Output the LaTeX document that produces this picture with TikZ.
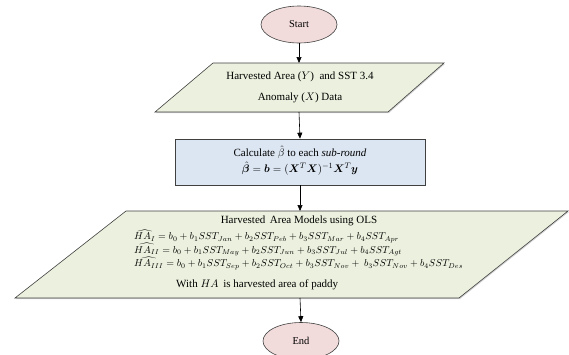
\documentclass[tikz,border=0pt]{standalone}
\usepackage{amsmath,bm}
\usepackage{fontspec}
\setmainfont{Liberation Serif}
\usetikzlibrary{arrows.meta,shapes.geometric,shadows}
\definecolor{pinkfill}{HTML}{F2DCDB}
\definecolor{greenfill}{HTML}{EBF1DE}
\definecolor{bluefill}{HTML}{DCE6F2}
\definecolor{edge}{HTML}{404040}
\tikzset{
  termbox/.style={ellipse, draw=edge, fill=pinkfill, line width=0.6pt, minimum width=76pt, minimum height=37pt, inner sep=0pt, font=\fontsize{10.5}{12}\selectfont},
  iobox/.style={draw=edge, fill=greenfill, line width=0.6pt, drop shadow={shadow xshift=1pt, shadow yshift=-1pt, opacity=0.35}},
  procbox/.style={rectangle, draw=edge, fill=bluefill, line width=0.6pt, minimum width=250pt, minimum height=46pt, inner sep=0pt, drop shadow={shadow xshift=1pt, shadow yshift=-1pt, opacity=0.35}},
  txt/.style={inner sep=0pt, font=\fontsize{11}{12}\selectfont},
  eqtxt/.style={inner sep=0pt, font=\fontsize{10.2}{11}\selectfont, anchor=west},
  flow/.style={-{Triangle[length=6pt,width=5pt]}, line width=0.6pt, black}
}
\begin{document}
\begin{tikzpicture}[x=1pt,y=-1pt]
\useasboundingbox (0,0) rectangle (569,354);
% Start
\node[termbox] (start) at (299,24.5) {Start};
% input parallelogram
\draw[iobox] (213,63) -- (444,63) -- (388,112) -- (155,112) -- cycle;
\coordinate (inN) at (299,63);
\coordinate (inS) at (299,112);
\node[txt] (in1) at (300,77) {Harvested Area ($Y$)\ \ and SST 3.4};
\node[txt] (in2) at (300,98) {Anomaly ($X$) Data};
% process box
\node[procbox] (calc) at (300,162) {};
\node[txt] (calc1) at (300,152) {Calculate $\hat{\beta}$ to each \textit{sub-round}};
\node[txt] (calc2) at (300,169) {$\hat{\bm{\beta}}=\bm{b}=(\bm{X}^{T}\bm{X})^{-1}\bm{X}^{T}\bm{y}$};
% model parallelogram
\draw[iobox] (126,211) -- (568,211) -- (459,298) -- (15,298) -- cycle;
\coordinate (modN) at (300,211);
\coordinate (modS) at (300,298);
\node[txt] (mod0) at (299,221) {Harvested\, Area Models using OLS};
\node[eqtxt] (mod1) at (134,236) {$\widehat{HA_{I}}=b_0+b_1SST_{Jan}+b_2SST_{Peb}+b_3SST_{Mar}+b_4SST_{Apr}$};
\node[eqtxt] (mod2) at (134,249.5) {$\widehat{HA_{II}}=b_0+b_1SST_{May}+b_2SST_{Jun}+b_3SST_{Jul}+b_4SST_{Agt}$};
\node[eqtxt] (mod3) at (134,263) {$\widehat{HA_{III}}=b_0+b_1SST_{Sep}+b_2SST_{Oct}+b_3SST_{Nov}+\ b_3SST_{Nov}+b_4SST_{Des}$};
\node[txt, anchor=west] (mod4) at (176,285) {With $HA$\, is harvested area of paddy};
% End
\node[termbox] (end) at (301,341) {End};
% connectors
\draw[flow] (start.south) -- (inN);
\draw[flow] (inS) -- (calc.north);
\draw[flow] (calc.south) -- (modN);
\draw[flow] (modS) -- (end.north);
\end{tikzpicture}
\end{document}
